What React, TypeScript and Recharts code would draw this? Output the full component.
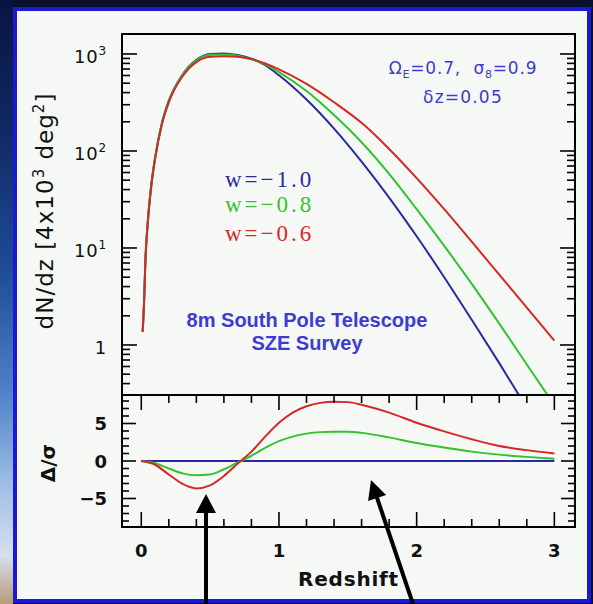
import React from 'react';
import { LineChart, Line, XAxis, YAxis, ReferenceArea, Label } from 'recharts';

// ---------------- data ----------------
const redshiftTop = [0.01, 0.02, 0.03, 0.05, 0.075, 0.1, 0.15, 0.2, 0.3, 0.4, 0.5, 0.6, 0.7, 0.8, 0.9, 1.0, 1.2, 1.4, 1.6, 1.8, 2.0, 2.2, 2.4, 2.6, 2.8, 3.0];
const dndzW10 = [1.37, 2.7, 7.5, 21, 48, 85, 195, 330, 615, 870, 1000, 1010, 975, 895, 765, 603, 339, 170, 77.6, 33.1, 13.2, 5.0, 1.82, 0.65, 0.224, 0.08];
const dndzW08 = [1.37, 2.7, 7.4, 20.5, 47, 84, 192, 325, 610, 860, 980, 985, 960, 880, 780, 650, 415, 235, 123, 58, 25.1, 10.5, 4.27, 1.66, 0.63, 0.24];
const dndzW06 = [1.37, 2.7, 7.3, 20, 46, 82, 188, 318, 590, 825, 935, 950, 935, 885, 798, 695, 492, 318, 195, 105, 52.5, 25.1, 11.6, 5.3, 2.43, 1.11];

const redshiftBottom = [0, 0.1, 0.2, 0.3, 0.4, 0.5, 0.6, 0.7, 0.8, 0.9, 1.0, 1.1, 1.2, 1.3, 1.4, 1.5, 1.6, 1.8, 2.0, 2.2, 2.4, 2.6, 2.8, 3.0];
const deltaW10 = [0, 0, 0, 0, 0, 0, 0, 0, 0, 0, 0, 0, 0, 0, 0, 0, 0, 0, 0, 0, 0, 0, 0, 0];
const deltaW08 = [0, -0.3, -1.0, -1.65, -1.9, -1.8, -1.1, -0.2, 0.7, 1.75, 2.65, 3.25, 3.65, 3.85, 3.9, 3.9, 3.75, 3.15, 2.4, 1.8, 1.25, 0.85, 0.55, 0.3];
const deltaW06 = [0, -0.5, -1.8, -3.05, -3.65, -3.25, -2.0, -0.35, 1.25, 3.25, 5.1, 6.45, 7.3, 7.75, 7.9, 7.85, 7.5, 6.45, 5.1, 3.95, 2.9, 2.0, 1.45, 1.0];

const xTicks = [0, 0.2, 0.4, 0.6, 0.8, 1, 1.2, 1.4, 1.6, 1.8, 2, 2.2, 2.4, 2.6, 2.8, 3];
const logTicks = [0.4, 0.5, 0.6, 0.7, 0.8, 0.9, 1, 2, 3, 4, 5, 6, 7, 8, 9, 10, 20, 30, 40, 50, 60, 70, 80, 90, 100, 200, 300, 400, 500, 600, 700, 800, 900, 1000];
const logMajor = [1, 10, 100, 1000];
const logLabelExp: Record<number, string> = { 1: '', 10: '1', 100: '2', 1000: '3' };
const deltaTicks = [-8, -7, -6, -5, -4, -3, -2, -1, 0, 1, 2, 3, 4, 5, 6, 7, 8];
const deltaMajor = [-5, 0, 5];

const X_DOMAIN = [-0.14, 3.15];
const TOP_DOMAIN = [0.305, 1607];
const BOTTOM_DOMAIN = [-8.8, 8.8];

const seriesNames = ['w=\u22121.0', 'w=\u22120.8', 'w=\u22120.6'];
const seriesColors = ['#2a2aa0', '#2ec42e', '#d42828'];

const topData = redshiftTop.map((z, i) => ({ z, w10: dndzW10[i], w08: dndzW08[i], w06: dndzW06[i] }));
const bottomData = redshiftBottom.map((z, i) => ({ z, w10: deltaW10[i], w08: deltaW08[i], w06: deltaW06[i] }));

// ---------------- layout ----------------
const W = 593;
const H = 604;
const PLOT_L = 122;
const PLOT_R = 575;
const TOP_T = 34;
const TOP_B = 395;
const BOT_OFF = 380; // top of lower chart div
const BOT_T = 15; // in lower chart coords
const BOT_B = 147;

const SANS = 'DejaVu Sans, sans-serif';
const TICK_W = 1.6;

const isInt = (v: number) => Math.abs(v - Math.round(v)) < 1e-6;

const TopXTick = (p: any) => {
  const x = p.x;
  const len = isInt(p.payload.value) ? 15 : 8;
  return (
    <g>
      <line x1={x} x2={x} y1={TOP_T} y2={TOP_T + len} stroke="#000" strokeWidth={TICK_W} />
      <line x1={x} x2={x} y1={TOP_B} y2={TOP_B - len} stroke="#000" strokeWidth={TICK_W} />
    </g>
  );
};

const TopYTick = (p: any) => {
  const y = p.y;
  const v = p.payload.value;
  const major = logMajor.indexOf(v) >= 0;
  const len = major ? 15 : 8;
  const exp = logLabelExp[v];
  return (
    <g>
      <line x1={PLOT_L} x2={PLOT_L + len} y1={y} y2={y} stroke="#000" strokeWidth={TICK_W} />
      <line x1={PLOT_R - len} x2={PLOT_R} y1={y} y2={y} stroke="#000" strokeWidth={TICK_W} />
      {major && (
        <text x={107} y={y + 9} textAnchor="end" fontFamily={SANS} fontSize={18} letterSpacing={0.8} fill="#111">
          {exp === '' ? '1' : '10'}
          {exp !== '' && (
            <tspan fontSize={12} dy={-8}>
              {exp}
            </tspan>
          )}
        </text>
      )}
    </g>
  );
};

const BottomXTick = (p: any) => {
  const x = p.x;
  const v = p.payload.value;
  const major = isInt(v);
  const len = major ? 15 : 8;
  return (
    <g>
      <line x1={x} x2={x} y1={BOT_B} y2={BOT_B - len} stroke="#000" strokeWidth={TICK_W} />
      <line x1={x} x2={x} y1={BOT_T} y2={BOT_T + len} stroke="#000" strokeWidth={TICK_W} />
      {major && (
        <text x={x} y={BOT_B + 29.5} textAnchor="middle" fontFamily={SANS} fontWeight="bold" fontSize={18} fill="#111">
          {String(Math.round(v))}
        </text>
      )}
    </g>
  );
};

const BottomYTick = (p: any) => {
  const y = p.y;
  const v = p.payload.value;
  const major = deltaMajor.indexOf(v) >= 0;
  const len = major ? 14 : 7;
  return (
    <g>
      <line x1={PLOT_L} x2={PLOT_L + len} y1={y} y2={y} stroke="#000" strokeWidth={TICK_W} />
      <line x1={PLOT_R - len} x2={PLOT_R} y1={y} y2={y} stroke="#000" strokeWidth={TICK_W} />
      {major && (
        <text x={107} y={y + 6.5} textAnchor="end" fontFamily={SANS} fontWeight="bold" fontSize={18} fill="#111">
          {v < 0 ? '\u2212' + Math.abs(v) : String(v)}
        </text>
      )}
    </g>
  );
};

const TopYLabel = (p: any) => {
  const vb = p.viewBox || { x: 0, y: TOP_T, width: PLOT_L, height: TOP_B - TOP_T };
  const x = vb.x + 53;
  const y = vb.y + vb.height / 2 - 3.5;
  return (
    <text
      x={x}
      y={y}
      transform={`rotate(-90, ${x}, ${y})`}
      textAnchor="middle"
      fontFamily={SANS}
      fontSize={23}
      letterSpacing={1}
      fill="#111"
      style={{ whiteSpace: 'pre' }}
    >
      {'dN/dz [4x10'}
      <tspan fontSize={15} dy={-9}>3</tspan>
      <tspan dy={9}>{' deg'}</tspan>
      <tspan fontSize={15} dy={-9}>2</tspan>
      <tspan dy={9}>]</tspan>
    </text>
  );
};

const BottomYLabel = (p: any) => {
  const vb = p.viewBox || { x: 0, y: BOT_T, width: PLOT_L, height: BOT_B - BOT_T };
  const x = vb.x + 55;
  const y = vb.y + vb.height / 2 + 2;
  return (
    <text x={x} y={y} transform={`rotate(-90, ${x}, ${y})`} textAnchor="middle" fontFamily={SANS} fontWeight="bold" fontSize={20} fill="#111">
      {'\u0394/\u03c3'}
    </text>
  );
};

const XLabel = (p: any) => {
  const vb = p.viewBox || { x: PLOT_L, y: BOT_B, width: PLOT_R - PLOT_L, height: 77 };
  return (
    <text x={vb.x + vb.width / 2} y={vb.y + 59} textAnchor="middle" fontFamily={SANS} fontWeight="bold" fontSize={20} letterSpacing={0.8} fill="#111">
      Redshift
    </text>
  );
};

const Arrows = () => {
  const tip = [371, 480];
  const tail = [413, 604];
  const dx = tail[0] - tip[0];
  const dy = tail[1] - tip[1];
  const L = Math.sqrt(dx * dx + dy * dy);
  const ux = dx / L;
  const uy = dy / L;
  const hl = 19;
  const hw = 9.5;
  const bx = tip[0] + ux * hl;
  const by = tip[1] + uy * hl;
  const pts2 = `${tip[0]},${tip[1]} ${bx - uy * hw},${by + ux * hw} ${bx + uy * hw},${by - ux * hw}`;
  return (
    <g>
      <line x1={206} y1={604} x2={206} y2={508} stroke="#000" strokeWidth={4} />
      <polygon points="206,494 196,513 216,513" fill="#000" />
      <line x1={bx - ux * 2} y1={by - uy * 2} x2={tail[0]} y2={tail[1]} stroke="#000" strokeWidth={4} />
      <polygon points={pts2} fill="#000" />
    </g>
  );
};

export default function App() {
  return (
    <div style={{ position: 'absolute', left: 0, top: 0, width: W, height: H, background: '#0b0f2c', overflow: 'hidden' }}>
      <div
        style={{
          position: 'absolute',
          left: 0,
          top: 0,
          width: 13,
          height: H,
          background:
            'linear-gradient(to bottom, #0a1440 0%, #102a66 22%, #1f4c98 45%, #4f82c8 65%, #9dbde6 80%, #d6e0ee 92%, #b89a78 100%)',
        }}
      />
      <div
        style={{
          position: 'absolute',
          left: 13,
          top: 7,
          width: 578,
          height: 596,
          boxSizing: 'border-box',
          border: '4px solid #1a1ad6',
          background: '#f6f8f6',
        }}
      />

      {/* upper panel */}
      <div style={{ position: 'absolute', left: 0, top: 0 }}>
        <LineChart width={W} height={400} data={topData} margin={{ top: TOP_T, right: W - PLOT_R, bottom: 400 - TOP_B, left: 0 }}>
          <XAxis
            dataKey="z"
            type="number"
            domain={X_DOMAIN}
            allowDataOverflow
            ticks={xTicks}
            interval={0}
            height={0}
            tickSize={0}
            tickMargin={0}
            axisLine={false}
            tickLine={false}
            tick={(p: any) => <TopXTick {...p} />}
          />
          <YAxis
            type="number"
            scale="log"
            domain={TOP_DOMAIN}
            allowDataOverflow
            ticks={logTicks}
            interval={0}
            width={PLOT_L}
            tickSize={0}
            tickMargin={0}
            axisLine={false}
            tickLine={false}
            tick={(p: any) => <TopYTick {...p} />}
          >
            <Label content={(p: any) => <TopYLabel {...p} />} />
          </YAxis>
          <ReferenceArea x1={X_DOMAIN[0]} x2={X_DOMAIN[1]} y1={TOP_DOMAIN[0]} y2={TOP_DOMAIN[1]} fill="none" fillOpacity={0} stroke="#000" strokeWidth={2} ifOverflow="visible" />
          <Line dataKey="w10" name={seriesNames[0]} type="monotone" stroke={seriesColors[0]} strokeWidth={2} dot={false} isAnimationActive={false} />
          <Line dataKey="w08" name={seriesNames[1]} type="monotone" stroke={seriesColors[1]} strokeWidth={2} dot={false} isAnimationActive={false} />
          <Line dataKey="w06" name={seriesNames[2]} type="monotone" stroke={seriesColors[2]} strokeWidth={2} dot={false} isAnimationActive={false} />
        </LineChart>
      </div>

      {/* lower panel */}
      <div style={{ position: 'absolute', left: 0, top: BOT_OFF }}>
        <LineChart width={W} height={H - BOT_OFF} data={bottomData} margin={{ top: BOT_T, right: W - PLOT_R, bottom: 0, left: 0 }}>
          <XAxis
            dataKey="z"
            type="number"
            domain={X_DOMAIN}
            allowDataOverflow
            ticks={xTicks}
            interval={0}
            height={H - BOT_OFF - BOT_B}
            tickSize={0}
            tickMargin={0}
            axisLine={false}
            tickLine={false}
            tick={(p: any) => <BottomXTick {...p} />}
          >
            <Label content={(p: any) => <XLabel {...p} />} />
          </XAxis>
          <YAxis
            type="number"
            domain={BOTTOM_DOMAIN}
            allowDataOverflow
            ticks={deltaTicks}
            interval={0}
            width={PLOT_L}
            tickSize={0}
            tickMargin={0}
            axisLine={false}
            tickLine={false}
            tick={(p: any) => <BottomYTick {...p} />}
          >
            <Label content={(p: any) => <BottomYLabel {...p} />} />
          </YAxis>
          <ReferenceArea x1={X_DOMAIN[0]} x2={X_DOMAIN[1]} y1={BOTTOM_DOMAIN[0]} y2={BOTTOM_DOMAIN[1]} fill="none" fillOpacity={0} stroke="#000" strokeWidth={2} ifOverflow="visible" />
          <Line dataKey="w10" name={seriesNames[0]} type="monotone" stroke={seriesColors[0]} strokeWidth={2} dot={false} isAnimationActive={false} />
          <Line dataKey="w08" name={seriesNames[1]} type="monotone" stroke={seriesColors[1]} strokeWidth={2} dot={false} isAnimationActive={false} />
          <Line dataKey="w06" name={seriesNames[2]} type="monotone" stroke={seriesColors[2]} strokeWidth={2} dot={false} isAnimationActive={false} />
        </LineChart>
      </div>

      {/* annotations */}
      <svg width={W} height={H} style={{ position: 'absolute', left: 0, top: 0, pointerEvents: 'none' }}>
        <text x={463} y={74} textAnchor="middle" fontFamily={SANS} fontSize={17} letterSpacing={0.8} fill="#3c3cc8" style={{ whiteSpace: 'pre' }}>
          {'\u03a9'}
          <tspan fontSize={11} dy={4}>E</tspan>
          <tspan dy={-4}>{'=0.7,  \u03c3'}</tspan>
          <tspan fontSize={11} dy={4}>8</tspan>
          <tspan dy={-4}>=0.9</tspan>
        </text>
        <text x={463} y={103} textAnchor="middle" fontFamily={SANS} fontSize={17} letterSpacing={1.2} fill="#3c3cc8">
          {'\u03b4z=0.05'}
        </text>
        {seriesNames.map((n, i) => (
          <text key={n} x={225} y={[187, 212, 241][i]} fontFamily="Liberation Serif, serif" fontSize={23} letterSpacing={3} fill={seriesColors[i]}>
            {n}
          </text>
        ))}
        <text x={307} y={327} textAnchor="middle" fontFamily="Liberation Sans, Arial, sans-serif" fontWeight="bold" fontSize={20} fill="#3c3cd0">
          8m South Pole Telescope
        </text>
        <text x={307} y={350} textAnchor="middle" fontFamily="Liberation Sans, Arial, sans-serif" fontWeight="bold" fontSize={20} fill="#3c3cd0">
          SZE Survey
        </text>
        <Arrows />
      </svg>
    </div>
  );
}
